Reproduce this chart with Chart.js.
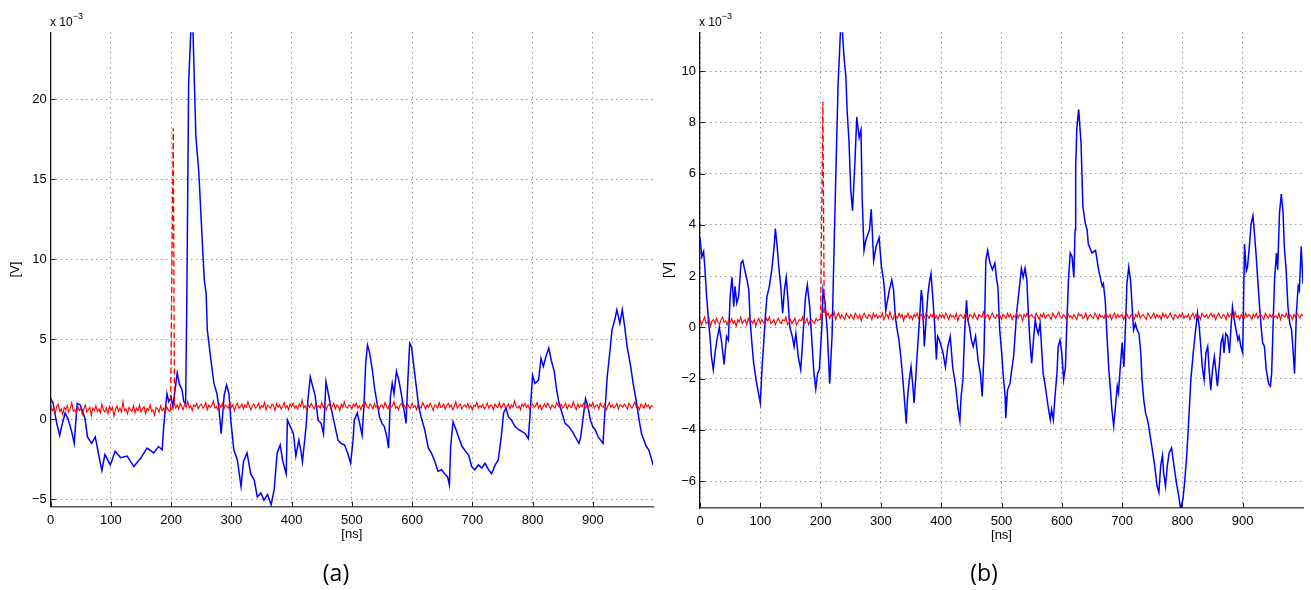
<!DOCTYPE html>
<html>
<head>
<meta charset="utf-8">
<title>Voltage traces (a) and (b)</title>
<script src="https://cdn.jsdelivr.net/npm/chart.js@4.4.1/dist/chart.umd.min.js"></script>
<style>
  body { margin: 0; background: #fff; width: 1311px; height: 590px; position: relative; overflow: hidden;
         font-family: "Liberation Sans", Arial, sans-serif; color: #000; }
  canvas { position: absolute; top: 0; }
  #chartA { left: 0; }
  #chartB { left: 655px; }
  .exp { position: absolute; top: 11px; font-size: 12px; line-height: 14px; }
  .exp sup { font-size: 9px; position: relative; top: -2px; }
  .caption { position: absolute; top: 557px; font-family: "Open Sans", sans-serif; font-size: 23px;
             line-height: 31px; transform: translateX(-50%); }
</style>
</head>
<body>
<canvas id="chartA" width="655" height="590"></canvas>
<canvas id="chartB" width="656" height="590"></canvas>
<div class="exp" style="left:50px">x 10<sup>&minus;3</sup></div>
<div class="exp" style="left:699px">x 10<sup>&minus;3</sup></div>
<div class="caption" style="left:336px">(a)</div>
<div class="caption" style="left:984px">(b)</div>

<script>
// tick positions (ns and 1e-3 V)
const xTicks = [0, 100, 200, 300, 400, 500, 600, 700, 800, 900];
const yTicksA = [-5, 0, 5, 10, 15, 20];
const yTicksB = [-6, -4, -2, 0, 2, 4, 6, 8, 10];

// red trace sampled every 2.5 ns (one row = 50 ns)
const redStep = 2.5;

// (a) blue trace, [ns, 1e-3 V]
const blueA = [
  [0,1.3],[4,1.0],[10,-0.25],[15,-1.0],[18,-0.45],[24,0.4],[29,0.0],[35,-0.8],[39,-1.5],[44,1.0],
  [49,0.9],[57,0.05],[61,-1.1],[68,-1.5],[74,-1.1],[79,-2.1],[85,-3.2],[90,-2.2],[99,-2.85],[107,-2.0],
  [116,-2.4],[127,-2.3],[138,-2.95],[149,-2.45],[160,-1.8],[171,-2.1],[179,-1.7],[185,-1.9],[188,-0.25],[193,1.6],
  [196,1.1],[200,1.4],[203,0.8],[210,2.9],[214,2.15],[218,1.85],[221,1.1],[224,1.0],[226,7.5],[229,21],
  [233,24.6],[236,24.6],[241,17.7],[246,15.4],[251,11.6],[255,8.7],[258,7.9],[260,5.6],[266,3.7],[271,2.25],
  [276,1.6],[279,0.8],[283,-0.9],[288,1.5],[292,2.15],[296,1.6],[299,-0.05],[304,-1.9],[310,-2.55],[316,-4.2],
  [320,-2.65],[326,-2.1],[332,-3.4],[338,-3.8],[343,-4.85],[349,-4.6],[354,-5.05],[360,-4.7],[366,-5.35],[371,-4.4],
  [376,-2.1],[381,-1.6],[385,-2.55],[389,-3.15],[391,-3.4],[393,-0.05],[399,-0.55],[403,-0.9],[407,-2.3],[412,-1.3],
  [416,-2.1],[418,-2.65],[424,-0.45],[427,1.2],[431,2.65],[435,2.05],[439,1.5],[444,-0.05],[449,-0.25],[453,-0.9],
  [457,2.35],[461,1.6],[465,0.8],[471,-0.25],[477,-1.3],[482,-1.5],[488,-1.6],[493,-2.1],[498,-2.75],[502,-1.3],
  [504,-0.05],[509,0.4],[513,-0.25],[517,-1.0],[520,0.8],[523,3.5],[526,4.65],[529,4.25],[534,3.1],[538,1.85],
  [542,1.0],[546,0.15],[550,-0.25],[554,-0.45],[558,-1.1],[561,-1.8],[564,1.4],[567,2.25],[570,1.6],[574,3.0],
  [578,2.45],[582,1.6],[587,0.5],[590,-0.25],[593,2.45],[596,4.75],[599,4.55],[603,3.3],[607,2.05],[611,0.8],
  [615,0.15],[621,-0.65],[627,-1.8],[632,-2.1],[638,-2.65],[643,-3.25],[649,-3.15],[654,-3.4],[659,-3.6],[662,-4.1],
  [664,-1.7],[668,-0.15],[673,-0.65],[678,-1.2],[683,-1.7],[689,-2.0],[694,-2.25],[699,-2.95],[704,-3.15],[710,-2.85],
  [716,-3.05],[721,-2.75],[727,-3.15],[732,-3.4],[738,-2.85],[743,-2.55],[748,-1.1],[752,0.4],[756,0.7],[760,0.15],
  [765,-0.05],[771,-0.45],[777,-0.65],[782,-0.75],[788,-0.9],[793,-1.2],[796,0.4],[800,2.75],[804,2.25],[810,2.45],
  [814,3.8],[818,3.3],[822,3.9],[827,4.45],[831,3.7],[836,3.0],[840,1.85],[844,1.0],[849,0.4],[854,-0.25],
  [860,-0.45],[866,-0.75],[871,-1.1],[877,-1.5],[880,-1.1],[885,0.4],[888,1.3],[892,0.8],[896,-0.05],[900,-0.45],
  [904,-0.65],[909,-1.1],[913,-1.3],[917,-1.5],[920,0.4],[924,2.65],[928,4.1],[932,5.6],[937,6.3],[940,6.85],
  [945,6.0],[949,6.85],[953,5.8],[957,4.55],[963,3.3],[967,2.25],[972,1.2],[977,-0.05],[981,-0.9],[985,-1.3],
  [989,-1.7],[993,-1.9],[998,-2.55],[1000,-2.85]
];

// (a) red trace, one value per 2.5 ns
const redA = [
  0.9,0.55,0.7,0.35,0.8,0.95,0.5,0.65,0.3,0.75,0.6,0.85,0.45,0.7,1.05,0.5,0.6,0.4,0.8,0.55,
  0.7,0.3,0.65,0.9,0.45,0.6,0.75,0.25,0.7,0.55,0.85,0.5,0.65,0.4,0.95,0.6,0.45,0.7,0.35,0.8,
  0.55,0.75,0.2,0.6,0.85,0.5,0.7,0.45,1.1,0.55,0.65,0.35,0.75,0.6,0.5,0.85,0.4,0.7,0.55,0.9,
  0.45,0.65,0.8,0.35,0.7,0.55,0.9,0.5,0.6,0.25,0.75,0.65,0.45,0.85,0.55,0.7,0.4,0.8,0.6,0.5,
  0.6,0.75,1.05,0.7,0.9,0.65,1.0,0.8,0.6,0.95,0.75,1.1,0.7,0.85,0.55,0.9,0.8,1.0,0.65,0.85,
  0.95,0.7,0.8,1.05,0.6,0.9,0.75,0.85,1.15,0.7,0.8,0.6,0.95,0.75,1.0,0.65,0.9,0.8,0.7,1.05,
  0.75,0.9,0.55,0.85,1.0,0.7,0.8,0.95,0.65,0.9,0.75,1.1,0.8,0.6,0.85,0.95,0.7,0.8,1.0,0.65,
  0.85,0.75,1.05,0.6,0.9,0.8,0.7,0.95,0.85,0.55,1.0,0.75,0.9,0.65,0.8,1.05,0.7,0.85,0.6,0.95,
  0.8,1.0,0.7,0.85,0.65,0.95,0.8,1.2,0.7,0.85,0.6,0.9,0.75,1.0,0.8,0.65,0.95,0.75,0.85,0.7,
  1.05,0.75,0.9,0.6,0.85,0.95,0.7,0.8,1.0,0.65,0.9,0.8,0.55,0.95,0.75,1.1,0.8,0.7,0.9,0.85,
  0.65,0.95,0.8,1.0,0.7,0.85,0.6,0.9,0.75,1.05,0.8,0.7,0.95,0.85,0.65,1.0,0.75,0.9,0.6,0.85,
  0.9,0.7,1.05,0.8,0.65,0.95,0.75,0.85,1.1,0.7,0.8,0.6,0.9,1.0,0.75,0.85,0.65,0.95,0.8,0.7,
  1.0,0.75,0.85,0.6,0.95,0.8,0.7,1.05,0.85,0.65,0.9,0.75,1.0,0.8,0.55,0.9,0.85,0.7,1.05,0.75,
  0.8,0.95,0.65,0.85,1.0,0.75,0.9,0.6,0.8,1.1,0.7,0.85,0.95,0.65,0.8,0.9,0.75,1.0,0.7,0.85,
  0.6,0.9,0.8,1.05,0.7,0.85,0.75,0.95,0.65,0.8,1.0,0.7,0.9,0.85,0.6,0.95,0.8,0.75,1.05,0.7,
  0.85,1.0,0.7,0.8,0.95,0.65,0.9,0.75,1.15,0.8,0.7,0.85,0.6,0.95,0.8,1.0,0.75,0.9,0.65,0.85,
  0.95,0.75,0.85,1.05,0.7,0.9,0.6,0.8,0.95,0.75,1.0,0.85,0.65,0.9,0.8,0.7,1.05,0.85,0.75,0.95,
  0.7,0.85,1.0,0.65,0.9,0.8,0.75,1.1,0.85,0.6,0.95,0.75,0.9,0.8,1.0,0.7,0.85,0.65,0.95,0.8,
  1.05,0.7,0.85,0.9,0.65,1.0,0.8,0.75,0.95,0.6,0.85,1.05,0.75,0.9,0.7,0.8,1.0,0.65,0.9,0.85,
  0.75,0.95,0.8,0.65,1.0,0.85,0.7,0.9,1.1,0.75,0.8,0.6,0.95,0.85,0.7,1.0,0.8,0.9,0.65,0.85,
  0.8
];

// (a) dashed trigger jump of the red trace
const spikeA = [[199,0.6],[203.5,18.2],[205.5,0.9]];

// (b) blue trace, [ns, 1e-3 V]
const blueB = [
  [0,3.5],[3,2.75],[6,2.95],[8,2.35],[11,1.2],[14,0.3],[17,-0.5],[19,-1.15],[22,-1.65],[25,-1.0],
  [28,-0.5],[32,0.0],[36,-0.6],[40,-1.45],[44,-0.35],[47,-0.5],[50,1.2],[53,1.95],[56,0.8],[58,1.6],
  [61,0.95],[64,1.2],[68,2.5],[71,2.6],[74,2.25],[78,1.85],[81,1.45],[83,0.3],[86,-0.6],[89,-1.4],
  [93,-2.05],[96,-2.45],[100,-2.95],[103,-1.55],[106,-0.5],[108,0.3],[111,1.2],[115,1.6],[119,2.25],[123,3.15],
  [125,3.85],[128,3.15],[131,2.25],[134,1.6],[137,0.55],[140,1.45],[143,1.95],[146,1.05],[149,0.0],[153,-0.35],
  [156,-0.75],[159,-0.25],[163,-1.15],[167,-1.65],[169,-1.0],[172,0.15],[175,1.2],[178,1.65],[182,0.8],[185,-0.35],
  [189,-1.8],[192,-2.4],[195,-1.8],[198,-1.65],[202,0.0],[204,1.45],[207,1.05],[211,-0.1],[215,-2.2],[219,-0.35],
  [222,2.75],[225,5.7],[229,9.5],[231,10.5],[233,11.6],[236,11.6],[239,10.5],[242,9.75],[244,8.45],[247,7.3],
  [250,5.35],[253,4.55],[257,6.5],[260,8.2],[264,7.4],[267,7.7],[269,5.0],[272,3.0],[275,3.4],[281,3.8],
  [284,4.6],[288,2.6],[292,3.15],[297,3.5],[301,2.35],[304,1.9],[306,1.45],[308,0.65],[311,1.05],[314,1.45],
  [318,1.85],[321,1.45],[324,0.4],[327,-0.1],[330,-0.5],[333,-1.15],[336,-1.9],[339,-2.8],[342,-3.75],[344,-2.8],
  [347,-2.05],[350,-1.55],[353,-2.3],[355,-2.95],[358,-1.9],[361,-0.75],[364,0.3],[367,1.45],[369,1.05],[372,-0.75],
  [375,0.3],[378,1.3],[381,1.85],[383,2.1],[386,1.2],[389,0.15],[392,-1.25],[394,-0.35],[397,-0.5],[403,-1.0],
  [407,-1.55],[411,-0.75],[415,-0.35],[419,-1.55],[424,-2.3],[428,-3.2],[431,-3.65],[433,-2.7],[436,-2.05],[439,-0.1],
  [442,1.05],[444,0.3],[447,0.0],[450,-0.5],[453,-0.75],[457,-0.35],[461,-1.25],[465,-1.8],[468,-2.7],[471,-1.0],
  [474,2.6],[477,3.0],[481,2.5],[485,2.25],[489,2.5],[492,1.85],[494,1.6],[497,-0.1],[500,-0.9],[503,-1.9],
  [506,-2.7],[507,-3.55],[510,-2.45],[514,-2.2],[517,-1.65],[520,-1.15],[522,-0.5],[525,0.55],[528,1.2],[531,1.85],
  [533,2.3],[536,1.95],[539,2.3],[542,1.85],[544,0.8],[547,-0.5],[550,-1.4],[553,-0.5],[556,0.3],[558,0.0],
  [561,-0.25],[564,0.15],[567,-1.0],[569,-1.8],[572,-2.2],[575,-2.7],[578,-3.2],[581,-3.6],[583,-3.2],[586,-3.6],
  [589,-2.6],[592,-1.8],[594,-0.75],[597,-0.5],[600,-1.0],[603,-2.05],[606,-1.55],[608,-0.1],[611,1.85],[614,2.9],
  [617,2.75],[620,1.95],[622,3.8],[623,6.25],[625,7.8],[628,8.5],[632,7.15],[635,4.7],[639,4.05],[642,3.8],
  [644,3.25],[650,2.9],[656,3.0],[661,2.25],[667,1.6],[669,1.7],[672,1.05],[675,-0.35],[678,-1.65],[681,-2.55],
  [683,-3.2],[686,-3.85],[689,-3.1],[692,-2.3],[694,-2.55],[697,-1.55],[700,-0.6],[703,-1.55],[706,0.3],[708,1.7],
  [711,2.35],[714,1.85],[717,0.65],[719,-0.1],[722,0.15],[725,-0.1],[728,-0.25],[731,-1.0],[733,-2.05],[736,-2.85],
  [739,-3.35],[742,-3.6],[744,-3.85],[750,-4.75],[754,-5.4],[758,-6.2],[761,-6.45],[764,-5.4],[767,-5.0],[769,-5.7],
  [772,-6.2],[775,-5.4],[778,-4.9],[782,-4.7],[786,-5.4],[790,-6.05],[794,-6.6],[797,-7.1],[801,-6.7],[804,-5.95],
  [807,-5.05],[810,-3.85],[814,-2.05],[817,-1.25],[819,-0.75],[822,-0.1],[825,0.55],[828,0.0],[831,-0.9],[833,-1.55],
  [836,-2.05],[839,-1.0],[842,-0.75],[844,-1.55],[847,-2.45],[850,-1.65],[853,-1.15],[856,-1.8],[858,-2.3],[861,-1.55],
  [864,-0.6],[867,-0.35],[869,-1.0],[872,-0.25],[875,-0.35],[878,-1.0],[881,0.15],[883,0.8],[886,0.3],[889,-0.1],
  [892,-0.5],[894,-0.35],[897,-0.75],[900,-1.0],[903,3.25],[906,2.2],[908,2.35],[911,3.15],[914,4.05],[917,4.35],
  [919,3.8],[922,2.9],[925,1.85],[928,0.8],[931,-0.1],[933,-0.6],[936,-0.75],[939,-1.65],[943,-2.2],[946,-2.3],
  [948,-1.8],[951,0.55],[953,1.95],[956,2.9],[958,2.25],[961,4.45],[964,5.2],[967,4.45],[969,3.15],[972,2.25],
  [975,0.8],[978,0.15],[981,-0.1],[983,-0.75],[986,-1.8],[989,0.55],[992,1.6],[994,1.45],[997,3.15],[1000,1.7]
];

// (b) red trace, one value per 2.5 ns
const redB = [
  0.3,0.1,0.25,0.4,0.15,0.2,0.35,0.05,0.25,0.3,0.15,0.35,0.2,0.1,0.3,0.4,0.2,0.25,0.1,0.3,
  0.2,0.35,0.15,0.25,0.05,0.3,0.2,0.4,0.15,0.25,0.3,0.1,0.35,0.2,0.25,0.15,0.3,0.05,0.25,0.35,
  0.15,0.3,0.2,0.1,0.35,0.25,0.4,0.15,0.2,0.3,0.1,0.25,0.35,0.2,0.15,0.3,0.25,0.4,0.1,0.2,
  0.3,0.15,0.25,0.35,0.1,0.2,0.3,0.25,0.4,0.15,0.2,0.35,0.1,0.25,0.3,0.2,0.15,0.35,0.25,0.3,
  0.3,0.5,0.65,0.75,0.45,0.55,0.35,0.5,0.4,0.6,0.3,0.45,0.55,0.35,0.5,0.4,0.3,0.55,0.45,0.35,
  0.5,0.4,0.3,0.55,0.45,0.35,0.5,0.25,0.45,0.55,0.4,0.35,0.5,0.45,0.3,0.55,0.4,0.5,0.35,0.45,
  0.4,0.55,0.3,0.45,0.5,0.35,0.6,0.4,0.3,0.5,0.45,0.35,0.55,0.4,0.5,0.25,0.45,0.4,0.55,0.35,
  0.45,0.3,0.5,0.4,0.55,0.35,0.45,0.5,0.3,0.4,0.55,0.45,0.35,0.5,0.4,0.6,0.35,0.45,0.3,0.5,
  0.4,0.5,0.35,0.55,0.45,0.3,0.5,0.4,0.45,0.35,0.55,0.25,0.45,0.5,0.4,0.35,0.55,0.45,0.3,0.5,
  0.45,0.35,0.55,0.4,0.3,0.5,0.45,0.4,0.6,0.35,0.45,0.5,0.3,0.45,0.55,0.4,0.35,0.5,0.4,0.45,
  0.3,0.5,0.45,0.35,0.55,0.4,0.5,0.3,0.45,0.4,0.55,0.35,0.5,0.45,0.25,0.5,0.4,0.55,0.35,0.45,
  0.5,0.4,0.35,0.55,0.45,0.3,0.5,0.4,0.55,0.35,0.45,0.5,0.4,0.3,0.55,0.45,0.35,0.5,0.6,0.4,
  0.35,0.5,0.45,0.3,0.55,0.4,0.45,0.35,0.5,0.4,0.3,0.55,0.45,0.5,0.35,0.4,0.55,0.3,0.45,0.5,
  0.4,0.35,0.55,0.45,0.3,0.5,0.4,0.45,0.35,0.55,0.45,0.4,0.5,0.3,0.45,0.55,0.35,0.5,0.4,0.45,
  0.5,0.3,0.45,0.55,0.4,0.35,0.5,0.45,0.3,0.5,0.4,0.6,0.35,0.45,0.5,0.4,0.3,0.55,0.45,0.35,
  0.45,0.55,0.35,0.5,0.4,0.45,0.3,0.55,0.4,0.5,0.35,0.45,0.55,0.4,0.3,0.5,0.45,0.35,0.5,0.4,
  0.55,0.35,0.45,0.4,0.5,0.3,0.45,0.55,0.35,0.5,0.4,0.45,0.3,0.55,0.45,0.4,0.5,0.35,0.45,0.55,
  0.4,0.5,0.3,0.45,0.55,0.4,0.35,0.5,0.45,0.3,0.55,0.4,0.5,0.45,0.35,0.6,0.4,0.45,0.3,0.5,
  0.45,0.35,0.55,0.4,0.5,0.45,0.3,0.5,0.4,0.55,0.35,0.45,0.5,0.4,0.3,0.55,0.45,0.35,0.5,0.4,
  0.5,0.4,0.45,0.35,0.55,0.3,0.5,0.45,0.4,0.55,0.35,0.5,0.45,0.3,0.5,0.4,0.55,0.45,0.35,0.5,
  0.45
];

const spikeB = [[200,0.3],[203.8,8.8],[206,0.55]];

const fontFamily = "'Liberation Sans', Arial, sans-serif";

// matlab style: short tick marks pointing into the plot
const inwardTicks = {
  id: 'inwardTicks',
  afterDraw(chart) {
    const { ctx, chartArea: a, scales: { x, y } } = chart;
    ctx.save();
    ctx.strokeStyle = '#222';
    ctx.lineWidth = 1;
    ctx.beginPath();
    x.ticks.forEach(t => {
      const px = Math.round(x.getPixelForValue(t.value)) + 0.5;
      ctx.moveTo(px, a.bottom);
      ctx.lineTo(px, a.bottom - 5);
    });
    y.ticks.forEach(t => {
      const py = Math.round(y.getPixelForValue(t.value)) + 0.5;
      ctx.moveTo(a.left, py);
      ctx.lineTo(a.left + 5, py);
    });
    ctx.stroke();
    ctx.restore();
  }
};

const minusLabel = v => String(v).replace('-', '\u2212');

function buildChart(id, o) {
  return new Chart(document.getElementById(id), {
    type: 'line',
    data: {
      datasets: [
        { label: 'red', data: o.red.map((v, i) => ({ x: i * redStep, y: v })),
          borderColor: '#ff0000', borderWidth: 1.1, order: 0 },
        { label: 'red jump', data: o.spike.map(([x, y]) => ({ x, y })),
          borderColor: '#ff0000', borderWidth: 1.3, borderDash: [6, 3], order: 1 },
        { label: 'blue', data: o.blue.map(([x, y]) => ({ x, y })),
          borderColor: '#0000ff', borderWidth: 1.5, order: 2 }
      ]
    },
    options: {
      responsive: false,
      animation: false,
      events: [],
      layout: { padding: { top: 32.3, right: o.padRight, left: 0, bottom: 0 } },
      elements: { point: { radius: 0 }, line: { tension: 0, fill: false } },
      plugins: { legend: { display: false }, tooltip: { enabled: false } },
      scales: {
        x: {
          type: 'linear', min: 0, max: 1000,
          afterBuildTicks: s => { s.ticks = xTicks.map(v => ({ value: v })); },
          afterFit: s => { s.height = o.xAxisHeight; },
          ticks: { color: '#000', padding: 6, maxRotation: 0, font: { family: fontFamily, size: 13 } },
          grid: { color: 'rgba(0,0,0,0.6)', lineWidth: 1, drawTicks: false },
          border: { display: true, color: '#555', width: 1.5, dash: [1, 4] },
          title: { display: true, text: '[ns]', color: '#000', font: { family: fontFamily, size: 13 },
                   padding: { top: 0, bottom: o.xTitlePad } }
        },
        y: {
          type: 'linear', min: o.yMin, max: o.yMax,
          afterBuildTicks: s => { s.ticks = o.yTicks.map(v => ({ value: v })); },
          afterFit: s => { s.width = o.yAxisWidth; },
          ticks: { color: '#000', padding: 4, font: { family: fontFamily, size: 13 }, callback: minusLabel },
          grid: { color: 'rgba(0,0,0,0.6)', lineWidth: 1, drawTicks: false },
          border: { display: true, color: '#111', width: 1.3, dash: [1, 4] },
          title: { display: true, text: '[V]', color: '#000', font: { family: fontFamily, size: 13 },
                   padding: { top: o.yTitlePad, bottom: 0 } }
        }
      }
    },
    plugins: [inwardTicks]
  });
}

buildChart('chartA', {
  blue: blueA, red: redA, spike: spikeA, yTicks: yTicksA,
  yMin: -5.46, yMax: 24.19, padRight: 2, yAxisWidth: 50.7, xAxisHeight: 83.3,
  xTitlePad: 47.5, yTitlePad: 7.5
});

buildChart('chartB', {
  blue: blueB, red: redB, spike: spikeB, yTicks: yTicksB,
  yMin: -7.05, yMax: 11.51, padRight: 8, yAxisWidth: 45, xAxisHeight: 82,
  xTitlePad: 46.5, yTitlePad: 5.5
});
</script>
</body>
</html>
